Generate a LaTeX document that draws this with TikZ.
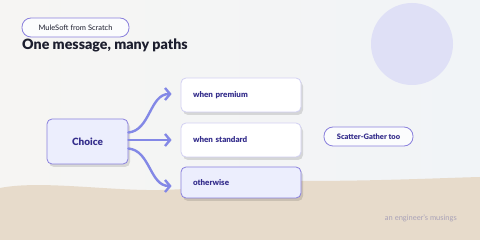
\documentclass[tikz,border=0pt]{standalone}
\usepackage{fontspec}
\setmainfont{Lato}[BoldFont={Lato Black}]
\usetikzlibrary{arrows.meta, positioning, shadows}
\definecolor{skyleft}{HTML}{F6F5F3}
\definecolor{skyright}{HTML}{F1F4F7}
\definecolor{sand}{HTML}{E7DBCB}
\definecolor{sun}{HTML}{DFE0F6}
\definecolor{ink}{HTML}{1C1E2E}
\definecolor{indigo}{HTML}{352E8C}
\definecolor{lilacedge}{HTML}{8A80DD}
\definecolor{paleedge}{HTML}{D2D0F2}
\definecolor{palefill}{HTML}{ECEEFD}
\definecolor{flowblue}{HTML}{8388E6}
\definecolor{muted}{HTML}{A9A2B8}

\begin{document}
\begin{tikzpicture}[x=1pt, y=-1pt,
  pill/.style={draw=lilacedge, fill=white!70!skyright, rounded corners=9pt,
    line width=0.8pt, inner sep=0pt, minimum height=19pt},
  card/.style={rounded corners=5pt, line width=0.8pt, inner sep=0pt,
    drop shadow={shadow xshift=2pt, shadow yshift=-3pt, opacity=0.12, fill=black}},
  option/.style={card, minimum width=120pt, text width=96pt, align=left,
    text=indigo, font=\fontsize{8}{9}\selectfont\bfseries},
  flow/.style={draw=flowblue, line width=2.4pt, line cap=round,
    -{Straight Barb[length=5pt, width=12pt]}}]

% ---- backdrop -----------------------------------------------------------
\useasboundingbox (0,0) rectangle (480,240);
\shade[left color=skyleft, right color=skyright] (0,0) rectangle (480,240);
\fill[sun] (412,44) circle (41pt);
\fill[sand] (0,188) .. controls (40,180) and (110,191) .. (160,190)
  .. controls (210,189) and (250,181) .. (300,181)
  .. controls (380,181) and (440,178) .. (480,177)
  -- (480,240) -- (0,240) -- cycle;

% ---- heading ------------------------------------------------------------
\node[pill, minimum width=107pt, text=ink, font=\fontsize{7.5}{8}\selectfont]
  (series) at (75.5,27.5) {MuleSoft from Scratch};
\node[anchor=base west, inner sep=0pt, text=ink,
  font=\fontsize{14.2}{16}\selectfont\bfseries] (title) at (22,50)
  {One message, many paths};

% ---- router and its branches --------------------------------------------
\node[card, fill=palefill, draw=lilacedge, minimum width=81pt, minimum height=45pt,
  text=indigo, font=\fontsize{10}{11}\selectfont\bfseries] (choice) at (87.5,141.5) {Choice};
\node[option, fill=white, draw=paleedge, minimum height=34pt] (premium) at (241,95) {when premium};
\node[option, fill=white, draw=paleedge, minimum height=34pt] (standard) at (241,140) {when standard};
\node[option, fill=palefill, draw=lilacedge, minimum height=31pt] (other) at (241,182.5) {otherwise};

\draw[flow] ([yshift=9pt]choice.east) .. controls +(22,-2) and +(-22,0)
  .. ([xshift=-9pt, yshift=1pt]premium.west);
\draw[flow] ([yshift=1.5pt]choice.east) -- ([xshift=-9pt]standard.west);
\draw[flow] ([yshift=-7pt]choice.east) .. controls +(22,2) and +(-22,0)
  .. ([xshift=-9pt, yshift=-3.5pt]other.west);

% ---- side note and footer -----------------------------------------------
\node[pill, minimum width=89pt, text=indigo, font=\fontsize{7.5}{8}\selectfont\bfseries]
  (scatter) at (368.5,136.5) {Scatter-Gather too};
\node[anchor=base east, inner sep=0pt, text=muted, font=\fontsize{7.5}{8}\selectfont]
  (footer) at (457,221) {an engineer's musings};
\end{tikzpicture}
\end{document}
